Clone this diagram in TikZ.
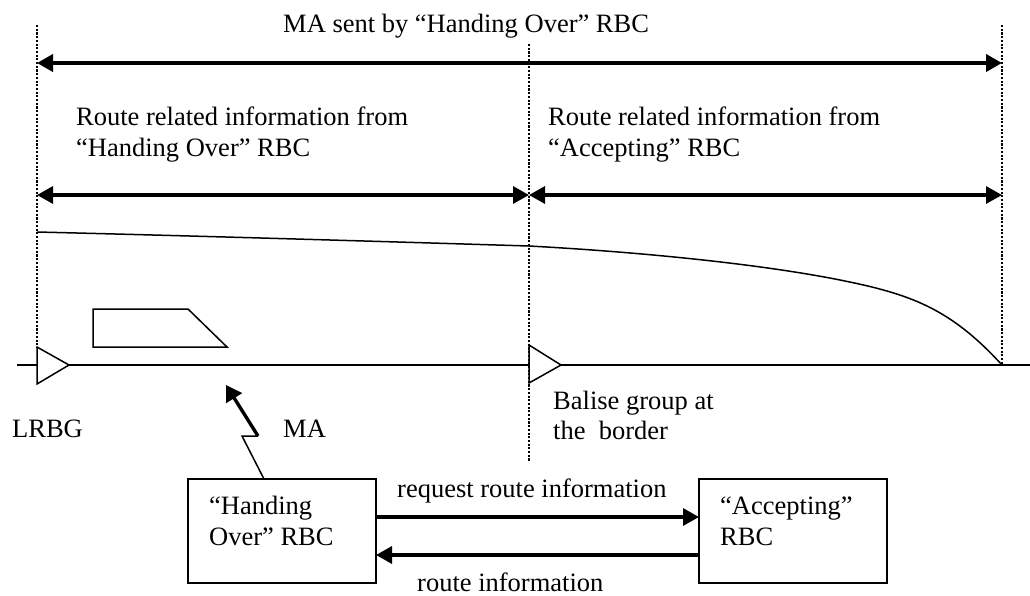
\documentclass[tikz,border=0pt]{standalone}
\usepackage{fontspec}
\setmainfont{Liberation Serif}
\usetikzlibrary{arrows.meta}
\tikzset{
  dotline/.style={line width=2.3pt,dash pattern=on 2.1pt off 1.6pt},
  thin line/.style={line width=1.5pt},
  bigarrow/.style={line width=3.8pt,{Triangle[length=16pt,width=17pt]}-{Triangle[length=16pt,width=17pt]}},
  midarrow/.style={line width=3.2pt,{Triangle[length=16pt,width=17pt]}-{Triangle[length=16pt,width=17pt]}},
  msgarrow/.style={line width=3.4pt,-{Triangle[length=16pt,width=17pt]}},
  label/.style={inner sep=0pt,anchor=base west,font=\fontsize{26.5}{30}\selectfont,align=left},
  boxnode/.style={draw,line width=1.5pt,inner sep=0pt,outer sep=0pt,anchor=north west}
}
\begin{document}
\begin{tikzpicture}[x=1pt,y=-1pt]
\useasboundingbox (0,0) rectangle (1030,595);
\coordinate (lt) at (37,25); \coordinate (lb) at (37,347);
\coordinate (mt) at (529,44); \coordinate (mb) at (529,462);
\coordinate (rt) at (1002,25); \coordinate (rb) at (1002,365);
\draw[dotline] (lt) -- (lb);
\draw[dotline] (mt) -- (mb);
\draw[dotline] (rt) -- (rb);
\coordinate (a1l) at (37,63); \coordinate (a1r) at (1002,63);
\coordinate (a2l) at (37,195); \coordinate (a2m) at (529,195); \coordinate (a2r) at (1002,195);
\draw[bigarrow] (a1l) -- (a1r);
\draw[midarrow] (a2l) -- (a2m);
\draw[midarrow] (a2m) -- (a2r);
\node[label] (t1) at (283,32) {MA sent by “Handing Over” RBC};
\node[label] (t2) at (76,125) {Route related information from};
\node[label] (t2b) at (76,156) {“Handing Over” RBC};
\node[label] (t3) at (548,125) {Route related information from};
\node[label] (t3b) at (548,156) {“Accepting” RBC};
% braking curve
\draw[thin line] (37,232) .. controls (200,236) and (400,242) .. (529,246)
  .. controls (640,252) and (760,264) .. (840,280)
  .. controls (910,294) and (950,308) .. (1002,365);
% track
\coordinate (tl) at (17,365); \coordinate (tr) at (1030,365);
\draw[thin line] (tl) -- (tr);
\draw[thin line,fill=white] (37,347) -- (69,365) -- (37,384) -- cycle;
\draw[thin line,fill=white] (529,345) -- (561,365) -- (529,383) -- cycle;
% train
\draw[thin line] (93,347) -- (227,347) -- (188,309) -- (93,309) -- cycle;
\node[label] (t4) at (12,437) {LRBG};
\node[label] (t5) at (283,437) {MA};
\node[label] (t6) at (553,409) {Balise group at};
\node[label] (t6b) at (553,439.5) {the\ \ border};
% RBC boxes
\node[boxnode,minimum width=188pt,minimum height=104pt] (hbox) at (188,479) {};
\node[boxnode,minimum width=188pt,minimum height=104pt] (abox) at (699,479) {};
\node[label] (t7) at (209,514) {“Handing};
\node[label] (t7b) at (209,545) {Over” RBC};
\node[label] (t8) at (720,514) {“Accepting”};
\node[label] (t8b) at (720,545) {RBC};
\node[label] (t9) at (397,497) {request route information};
\node[label] (t10) at (417,591) {route information};
\coordinate (hr1) at (hbox.east |- 0,517); \coordinate (al1) at (abox.west |- 0,517);
\coordinate (hr2) at (hbox.east |- 0,555); \coordinate (al2) at (abox.west |- 0,555);
\draw[msgarrow] (hr1) -- (al1);
\draw[msgarrow] (al2) -- (hr2);
% radio
\coordinate (r0) at (264,479); \coordinate (r1) at (242,436); \coordinate (r2) at (258,436); \coordinate (r3) at (226,385);
\draw[thin line] (r0) -- (r1) -- (r2);
\draw[line width=3.4pt,-{Triangle[length=15.5pt,width=18pt]}] (r2) -- (r3);
\end{tikzpicture}
\end{document}
